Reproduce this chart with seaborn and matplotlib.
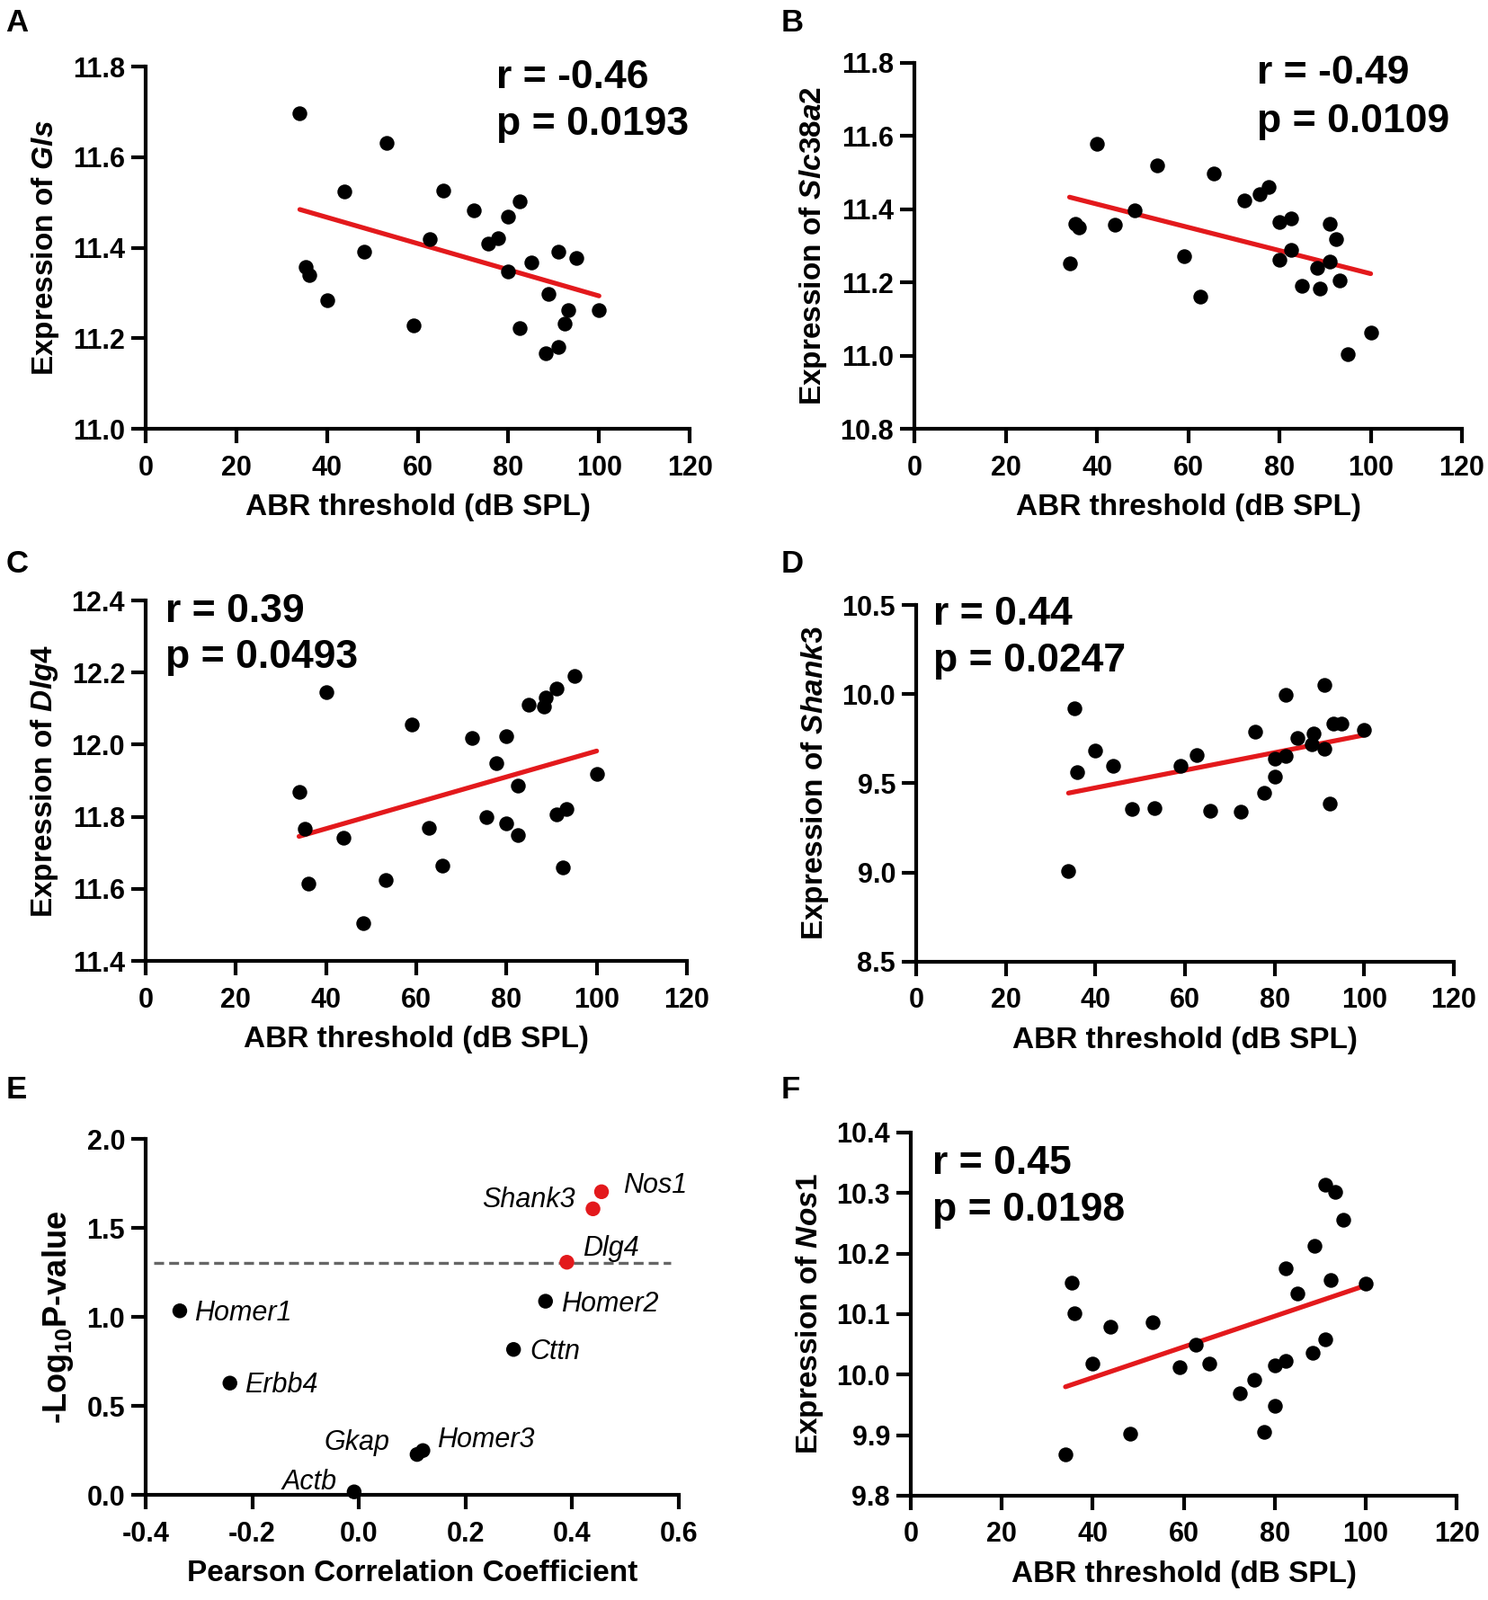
import matplotlib
matplotlib.use("Agg")
import matplotlib.pyplot as plt
import numpy as np
import pandas as pd
import seaborn as sns

FIG_SIZE = (16.55, 17.8)
RED = "#e3191c"
DOT_SIZE = 140

# ABR thresholds (dB SPL), shared by all scatter panels
abr = [34.0, 35.3, 36.0, 40.0, 43.9, 48.2, 53.2, 59.1, 62.7, 65.7, 72.4, 75.6, 77.7,
       80.0, 80.0, 82.5, 82.5, 85.0, 88.3, 88.8, 91.1, 91.1, 92.4, 93.2, 95.0, 100.0]

gls = [11.697, 11.358, 11.339, 11.284, 11.525, 11.391, 11.631, 11.228, 11.419, 11.526,
       11.482, 11.410, 11.420, 11.469, 11.347, 11.502, 11.223, 11.368, 11.167, 11.297,
       11.391, 11.180, 11.233, 11.262, 11.378, 11.262]
slc38a2 = [11.252, 11.361, 11.351, 11.579, 11.357, 11.396, 11.520, 11.271, 11.161, 11.498,
           11.425, 11.441, 11.461, 11.364, 11.261, 11.376, 11.289, 11.191, 11.241, 11.184,
           11.257, 11.359, 11.318, 11.206, 11.005, 11.062]
dlg4 = [11.868, 11.766, 11.614, 12.145, 11.742, 11.506, 11.625, 12.057, 11.768, 11.664,
        12.018, 11.800, 11.949, 12.024, 11.782, 11.886, 11.750, 12.111, 12.105, 12.132,
        12.155, 11.806, 11.660, 11.822, 12.190, 11.920]
shank3 = [9.007, 9.921, 9.562, 9.683, 9.597, 9.356, 9.359, 9.599, 9.661, 9.347,
          9.342, 9.792, 9.448, 9.540, 9.641, 9.998, 9.656, 9.755, 9.720, 9.779,
          10.052, 9.692, 9.389, 9.834, 9.834, 9.800]
nos1 = [9.868, 10.152, 10.101, 10.018, 10.079, 9.903, 10.087, 10.013, 10.049, 10.018,
        9.969, 9.992, 9.906, 9.948, 10.015, 10.176, 10.023, 10.134, 10.036, 10.213,
        10.059, 10.313, 10.156, 10.302, 10.256, 10.150]

# panel E: correlation summary
genes = ["Homer1", "Erbb4", "Actb", "Gkap", "Homer3", "Cttn", "Homer2", "Dlg4", "Shank3", "Nos1"]
pearson_r = [-0.336, -0.242, -0.009, 0.109, 0.120, 0.290, 0.350, 0.390, 0.439, 0.455]
neg_log_p = [1.034, 0.628, 0.017, 0.227, 0.249, 0.817, 1.088, 1.307, 1.607, 1.703]
significant = [False, False, False, False, False, False, False, True, True, True]

# label offsets in points (dx, dy, ha) for panel E
LABEL_OFFSETS = {
    "Homer1": (11.5, -7.5, "left"), "Erbb4": (11.5, -7.7, "left"), "Actb": (-14, 2, "right"),
    "Gkap": (-22, 3.6, "right"), "Homer3": (11.5, 2.4, "left"), "Cttn": (13, -7.7, "left"),
    "Homer2": (12.5, -8, "left"), "Dlg4": (13, 5.3, "left"), "Shank3": (-14, 1, "right"),
    "Nos1": (17, -0.7, "left"),
}

sns.set_theme(style="ticks")
plt.rcParams.update({
    "font.family": ["Liberation Sans", "DejaVu Sans"],
    "font.weight": "bold",
    "text.color": "black",
    "axes.labelcolor": "black",
    "axes.labelweight": "bold",
    "axes.unicode_minus": False,
    "axes.linewidth": 3.0,
    "axes.edgecolor": "black",
    "xtick.major.width": 3.0, "ytick.major.width": 3.0,
    "xtick.major.size": 11.5, "ytick.major.size": 11.5,
    "xtick.color": "black", "ytick.color": "black",
    "xtick.labelcolor": "black", "ytick.labelcolor": "black",
    "xtick.labelsize": 22, "ytick.labelsize": 22,
    "axes.labelsize": 24,
    "mathtext.fontset": "custom",
    "mathtext.it": "Liberation Sans:italic",
    "mathtext.bf": "Liberation Sans:bold",
    "mathtext.rm": "Liberation Sans:bold",
})

fig = plt.figure(figsize=FIG_SIZE, dpi=100)


def style_axes(ax):
    sns.despine(ax=ax)
    ax.tick_params(axis="x", pad=9)
    ax.tick_params(axis="y", pad=5)
    for lab in ax.get_xticklabels() + ax.get_yticklabels():
        lab.set_fontweight("bold")


def scatter_panel(rect, gene, yvals, ylim, ystep, r_txt, p_txt, txt_pos):
    ax = fig.add_axes(rect)
    df = pd.DataFrame({"abr": abr, "expr": yvals})
    sns.scatterplot(data=df, x="abr", y="expr", ax=ax, color="black", s=DOT_SIZE,
                    linewidth=0, clip_on=False, zorder=3)
    sns.regplot(data=df, x="abr", y="expr", ax=ax, scatter=False, ci=None,
                color=RED, line_kws={"linewidth": 3.8, "zorder": 2})
    ax.set_xlim(0, 120)
    ax.set_ylim(*ylim)
    ax.set_xticks(np.arange(0, 121, 20))
    ax.set_yticks(np.arange(ylim[0], ylim[1] + ystep / 2, ystep))
    ax.set_xlabel("ABR threshold (dB SPL)", labelpad=10)
    ax.set_ylabel(f"Expression of $\\mathit{{{gene}}}$", labelpad=9)
    x0, yr, yp = txt_pos
    ax.text(x0, yr, r_txt, transform=ax.transAxes, fontsize=32, fontweight="bold",
            va="baseline")
    ax.text(x0, yp, p_txt, transform=ax.transAxes, fontsize=32, fontweight="bold",
            va="baseline")
    style_axes(ax)
    return ax


scatter_panel([0.0979, 0.732, 0.3656, 0.2264], "Gls", gls, (11.0, 11.8), 0.2,
              "r = -0.46", "p = 0.0193", (0.645, 0.940, 0.811))
scatter_panel([0.6145, 0.732, 0.3680, 0.2287], "Slc38a2", slc38a2, (10.8, 11.8), 0.2,
              "r = -0.49", "p = 0.0109", (0.626, 0.943, 0.811))
scatter_panel([0.0979, 0.3994, 0.3637, 0.2253], "Dlg4", dlg4, (11.4, 12.4), 0.2,
              "r = 0.39", "p = 0.0493", (0.037, 0.940, 0.813))
scatter_panel([0.6157, 0.3989, 0.3613, 0.2230], "Shank3", shank3, (8.5, 10.5), 0.5,
              "r = 0.44", "p = 0.0247", (0.032, 0.945, 0.814))
scatter_panel([0.6121, 0.0652, 0.3668, 0.2270], "Nos1", nos1, (9.8, 10.4), 0.1,
              "r = 0.45", "p = 0.0198", (0.040, 0.886, 0.757))

# panel E: volcano-like summary
ax = fig.add_axes([0.0979, 0.0657, 0.3583, 0.2225])
edf = pd.DataFrame({"gene": genes, "r": pearson_r, "nlp": neg_log_p, "sig": significant})
sns.scatterplot(data=edf, x="r", y="nlp", hue="sig", palette={False: "black", True: RED},
                ax=ax, s=DOT_SIZE, linewidth=0, legend=False, clip_on=False, zorder=3)
ax.axhline(-np.log10(0.05), xmin=0.015, xmax=0.985, color="#666666", linewidth=2.4,
           linestyle=(0, (3.3, 1.7)), zorder=1)
for g, xv, yv in zip(genes, pearson_r, neg_log_p):
    dx, dy, ha = LABEL_OFFSETS[g]
    ax.annotate(g, (xv, yv), xytext=(dx, dy), textcoords="offset points", ha=ha,
                va="baseline", fontsize=22, fontstyle="italic", fontweight="normal")
ax.set_xlim(-0.4, 0.6)
ax.set_ylim(0, 2.0)
ax.set_xticks(np.arange(-0.4, 0.61, 0.2))
ax.set_yticks(np.arange(0, 2.01, 0.5))
ax.xaxis.set_major_formatter(matplotlib.ticker.FormatStrFormatter("%.1f"))
ax.yaxis.set_major_formatter(matplotlib.ticker.FormatStrFormatter("%.1f"))
ax.set_xlabel("Pearson Correlation Coefficient", labelpad=10)
ax.set_ylabel("-Log$_{\\mathbf{10}}$P-value", labelpad=9, fontsize=26)
style_axes(ax)

# panel letters
for letter, (lx, ly) in {"A": (0.004, 0.995), "B": (0.525, 0.995), "C": (0.004, 0.657),
                         "D": (0.525, 0.657), "E": (0.004, 0.328), "F": (0.525, 0.328)}.items():
    fig.text(lx, ly, letter, fontsize=25, fontweight="bold", va="top", ha="left")

fig.savefig("out.png", dpi=100, facecolor="white")
